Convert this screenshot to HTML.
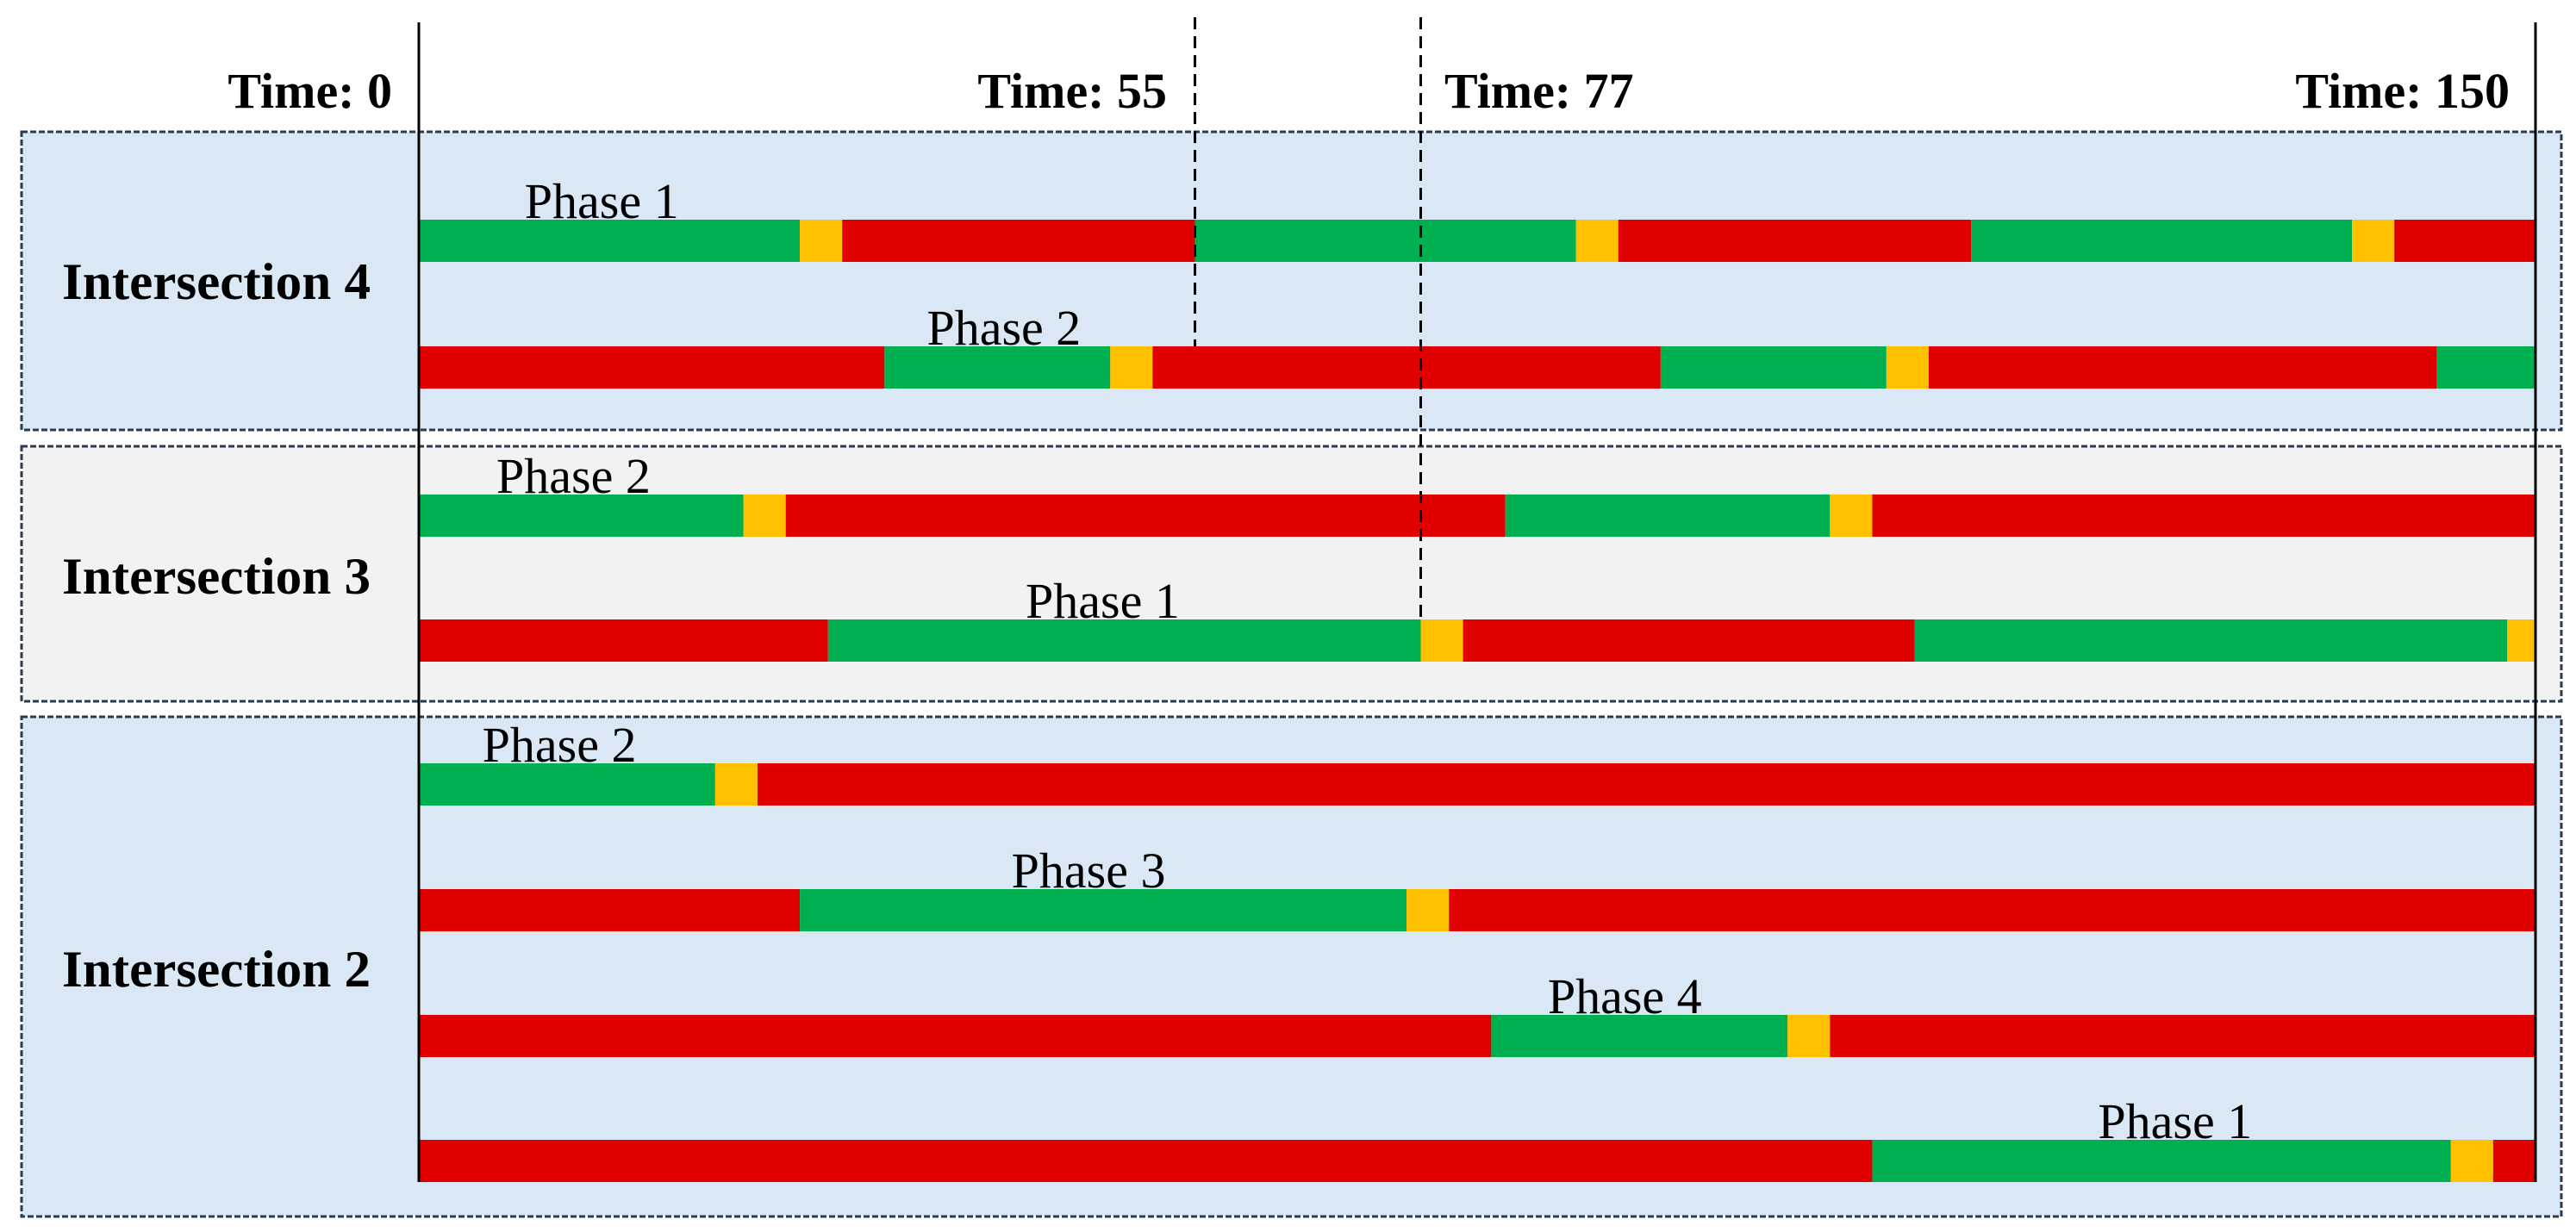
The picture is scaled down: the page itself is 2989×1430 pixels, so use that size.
<!DOCTYPE html>
<html><head><meta charset="utf-8"><style>
html,body{margin:0;padding:0;background:#fff;}
svg{display:block;font-family:"Liberation Serif",serif;}
</style></head><body>
<svg id="chart" width="2989" height="1430" viewBox="0 0 2989 1430" xmlns="http://www.w3.org/2000/svg">
<g id="boxes"></g>
<g id="bars"></g>
<g id="lines"></g>
<g id="labels"></g>
</svg>
<script>
// ---- data ----
const intersectionNames = ["Intersection 4", "Intersection 3", "Intersection 2"];
// each row: [intersectionIndex, phase label, states, durations (s)]
const rowIntersections = [0, 0, 1, 1, 2, 2, 2, 2];
const rowPhaseLabels = ["Phase 1", "Phase 2", "Phase 2", "Phase 1", "Phase 2", "Phase 3", "Phase 4", "Phase 1"];
const rowStates = [
  ["G","Y","R","G","Y","R","G","Y","R"],
  ["R","G","Y","R","G","Y","R","G"],
  ["G","Y","R","G","Y","R"],
  ["R","G","Y","R","G","Y"],
  ["G","Y","R"],
  ["R","G","Y","R"],
  ["R","G","Y","R"],
  ["R","G","Y","R"]
];
const rowDurations = [
  [27,3,25,27,3,25,27,3,10],
  [33,16,3,36,16,3,36,7],
  [23,3,51,23,3,47],
  [29,42,3,32,42,2],
  [21,3,126],
  [27,43,3,77],
  [76,21,3,50],
  [103,41,3,3]
];
const phaseLabelTimes = [7.5, 36, 5.5, 43, 4.5, 42, 80, 119];
const timeMarks = [0, 55, 77, 150];
const timeMarkLabels = ["Time: 0", "Time: 55", "Time: 77", "Time: 150"];
const dashedTimes = [55, 71];

// ---- layout ----
const X0 = 486, X1 = 2942, TMAX = 150;
const x = t => X0 + (X1 - X0) * t / TMAX;
const rowTops = [255, 402, 574, 719, 886, 1032, 1178, 1323];
const BAR_H = 49;
const boxRects = [[25,153,2947,346,"#dae8f5"],[25,518,2947,296,"#f2f2f2"],[25,832,2947,580,"#dae8f5"]];
const nameBaselines = [347, 689, 1145];
const colors = {G:"#00b050", Y:"#ffc000", R:"#e00000"};
const NS = "http://www.w3.org/2000/svg";
function mk(tag, attrs, parent, text){
  const e = document.createElementNS(NS, tag);
  for (const k in attrs) e.setAttribute(k, attrs[k]);
  if (text !== undefined) e.textContent = text;
  parent.appendChild(e); return e;
}
const gBoxes = document.getElementById("boxes"), gBars = document.getElementById("bars"),
      gLines = document.getElementById("lines"), gLabels = document.getElementById("labels");

boxRects.forEach((b, i) => {
  const r = mk("rect", {x:b[0], y:b[1], width:b[2], height:b[3], fill:b[4], stroke:"#2b3b4e", "stroke-width":3, "stroke-dasharray":"7 3"}, gBoxes);
  
  
  const t = mk("text", {x:72, y:nameBaselines[i], "font-size":60, "font-weight":"bold", fill:"#000", textLength:358, lengthAdjust:"spacingAndGlyphs"}, gLabels, intersectionNames[i]);
  
  
});

rowStates.forEach((states, r) => {
  let t = 0;
  states.forEach((s, k) => {
    const d = rowDurations[r][k];
    const rc = mk("rect", {x:x(t), y:rowTops[r], width:x(t+d)-x(t), height:BAR_H, fill:colors[s]}, gBars);
    
    
    t += d;
  });
  const pl = mk("text", {x:x(phaseLabelTimes[r]), y:rowTops[r]-2, "font-size":58, fill:"#000"}, gLabels, rowPhaseLabels[r]);
  
  
});

// solid boundary lines
[0, TMAX].forEach(tv => {
  const l = mk("line", {x1:x(tv), x2:x(tv), y1:26, y2:1372, stroke:"#000", "stroke-width":3}, gLines);
  
  
});
const dashedEnds = [402, 719];
dashedTimes.forEach((tv, i) => {
  const l = mk("line", {x1:x(tv), x2:x(tv), y1:20, y2:dashedEnds[i], stroke:"#000", "stroke-width":3, "stroke-dasharray":"14 8"}, gLines);
  
  
});

// time labels
const labelAnchors = [["end",455],["end",1354],["start",1676],["end",2912]];
timeMarks.forEach((tm, i) => {
  const tl = mk("text", {x:labelAnchors[i][1], y:125, "font-size":58, "font-weight":"bold", "text-anchor":labelAnchors[i][0], fill:"#000"}, gLabels, timeMarkLabels[i]);
  
  
});
</script>
</body></html>
